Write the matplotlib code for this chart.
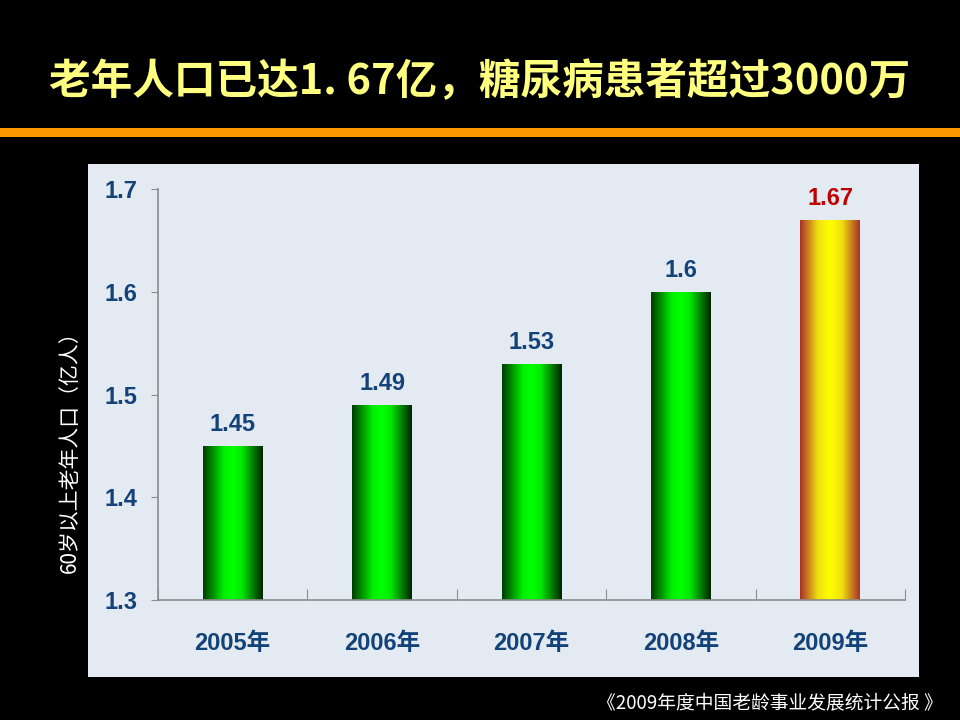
import numpy as np
import matplotlib.pyplot as plt
from matplotlib.colors import LinearSegmentedColormap
from matplotlib.patches import Rectangle

# data
years = ["2005年", "2006年", "2007年", "2008年", "2009年"]
values = [1.45, 1.49, 1.53, 1.60, 1.67]
label_text = ["1.45", "1.49", "1.53", "1.6", "1.67"]
yticks = [1.3, 1.4, 1.5, 1.6, 1.7]

title = "老年人口已达1. 67亿，糖尿病患者超过3000万"
ylabel = "60岁以上老年人口（亿人）"
source = "《2009年度中国老龄事业发展统计公报 》"

W, H = 960, 720
blue = "#134279"
lat = ["Liberation Sans", "Noto Sans CJK SC"]
cjk = ["Noto Sans CJK SC", "DejaVu Sans"]

green_cm = LinearSegmentedColormap.from_list(
    "g", [(0, "#003c00"), (0.35, "#00f000"), (0.5, "#00ff00"),
          (0.65, "#00e800"), (1.0, "#002200")])
gold_cm = LinearSegmentedColormap.from_list(
    "y", [(0, "#a8302a"), (0.3, "#f0e010"), (0.5, "#ffff00"),
          (0.7, "#f0e010"), (1.0, "#a8302a")])

fig = plt.figure(figsize=(W / 100, H / 100), dpi=100)
fig.patch.set_facecolor("black")

# orange rule under the title
fig.patches.append(Rectangle((0, 1 - 137 / H), 1, 9 / H, transform=fig.transFigure,
                             facecolor="#ff9900", edgecolor="none"))
# light panel behind the chart
fig.patches.append(Rectangle((88 / W, 1 - 677 / H), (919 - 88) / W, (677 - 164) / H,
                             transform=fig.transFigure, facecolor="#e3eaf1",
                             edgecolor="none", zorder=0))

fig.text(0.5, 1 - 82 / H, title, ha="center", va="center", color="#ffff80",
         fontsize=30, fontweight="bold", family=cjk)

ax = fig.add_axes([158 / W, 1 - 600 / H, (905 - 158) / W, (600 - 189) / H])
ax.set_zorder(3)
ax.set_facecolor("none")
x = np.arange(len(years))
bars = ax.bar(x, values, width=0.4, bottom=0, color="none", edgecolor="none")

grad = np.linspace(0, 1, 256).reshape(1, -1)
for i, (b, v) in enumerate(zip(bars, values)):
    cm = gold_cm if i == len(values) - 1 else green_cm
    x0 = b.get_x()
    im = ax.imshow(grad, cmap=cm, aspect="auto", interpolation="bicubic",
                   extent=[x0, x0 + b.get_width(), 1.3, v], zorder=2)
    im.set_clip_path(b)
    col = "#c00000" if i == len(values) - 1 else blue
    ax.annotate(label_text[i], (b.get_x() + b.get_width() / 2, v),
                xytext=(0, 7), textcoords="offset points", ha="center",
                va="bottom", color=col, fontsize=17, fontweight="bold", family=lat)

ax.set_xlim(-0.5, len(years) - 0.5)
ax.set_ylim(1.3, 1.7)

for s in ["top", "right"]:
    ax.spines[s].set_visible(False)
for s in ["left", "bottom"]:
    ax.spines[s].set_color("#8c8c8c")
    ax.spines[s].set_linewidth(1.2)

ax.set_yticks(yticks)
ax.set_yticklabels([f"{t:.1f}" for t in yticks], color=blue, fontsize=17,
                   fontweight="bold", family=lat)
ax.tick_params(axis="y", direction="out", length=5, color="#8c8c8c", pad=10)

# category labels centered under bars, tick marks between categories
ax.set_xticks(np.arange(len(years) + 1) - 0.5)
ax.set_xticklabels([])
ax.tick_params(axis="x", direction="in", length=8, color="#8c8c8c")
for xi, lab in zip(x, years):
    ax.text(xi, -0.106, lab, transform=ax.get_xaxis_transform(), ha="center",
            va="center", color=blue, fontsize=17, fontweight="bold", family=lat)

fig.text(70 / W, 1 - 447 / H, ylabel, rotation=90, ha="center", va="center",
         color="white", fontsize=15, family=cjk)
fig.text(943 / W, 1 - 703 / H, source, ha="right", va="center",
         color="white", fontsize=13.5, family=cjk)

fig.savefig("out.png", dpi=100, facecolor=fig.get_facecolor())
